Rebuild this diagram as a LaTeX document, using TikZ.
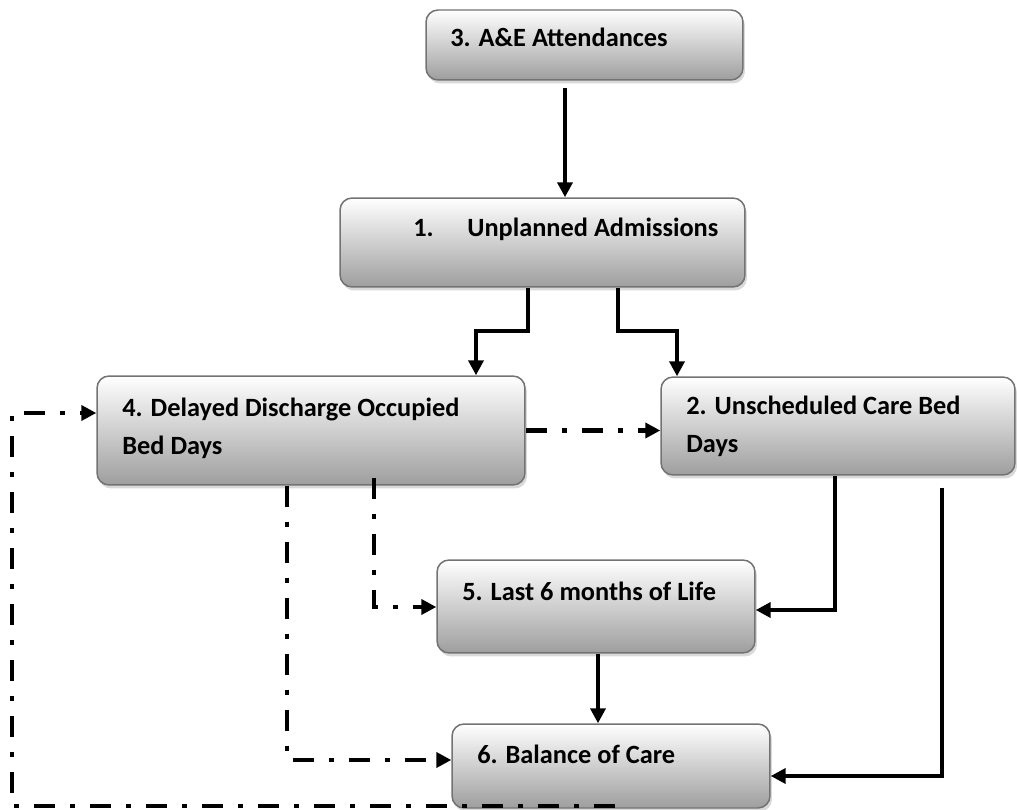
\documentclass[tikz,border=0pt]{standalone}
\usepackage{fontspec}
\setmainfont{Carlito}
\usetikzlibrary{arrows.meta,shadows,calc}

\begin{document}
\begin{tikzpicture}[x=0.02cm,y=-0.02cm,
    box/.style={draw=black!55,line width=0.85pt,rounded corners=0.24cm,
      top color=white,bottom color=black!38,inner sep=0pt,
      drop shadow={shadow xshift=0.04cm,shadow yshift=-0.07cm,opacity=0.3}},
    lbl/.style={anchor=base west,inner sep=0pt,align=left,
      font=\fontsize{15}{22}\selectfont\bfseries},
    flow/.style={line width=2.45pt,-{Triangle[length=0.3cm,width=0.3cm]}},
    dflow/.style={line width=2.8pt,dash pattern=on 0.42cm off 0.3cm on 0.1cm off 0.3cm,
      -{Triangle[length=0.3cm,width=0.3cm]}}]
  \useasboundingbox (0,0) rectangle (1017,810);

  % boxes
  \node[box,minimum width=6.34cm,minimum height=1.4cm] (b3) at (584.5,45) {};
  \node[box,minimum width=8.1cm,minimum height=1.78cm] (b1) at (542.5,242.5) {};
  \node[box,minimum width=8.56cm,minimum height=2.18cm] (b4) at (311,430.5) {};
  \node[box,minimum width=7.08cm,minimum height=1.96cm] (b2) at (838,426) {};
  \node[box,minimum width=6.36cm,minimum height=1.86cm] (b5) at (596,606.5) {};
  \node[box,minimum width=6.36cm,minimum height=1.68cm] (b6) at (611,766) {};

  % texts (base = last line)
  \node[lbl] (t3) at (450,47) {3. A\&E Attendances};
  \node[lbl] (t1) at (413,237) {\makebox[1.08cm][l]{1.}Unplanned Admissions};
  \node[lbl] (t4) at (122,455) {4. Delayed Discharge Occupied\\Bed Days};
  \node[lbl] (t2) at (686,453) {2. Unscheduled Care Bed\\Days};
  \node[lbl] (t5) at (462,600) {5. Last 6 months of Life};
  \node[lbl] (t6) at (477,763) {6. Balance of Care};

  % bend points
  \coordinate (a0) at (565,88);
  \coordinate (k1) at (528,331);
  \coordinate (k2) at (476,331);
  \coordinate (k3) at (618,331);
  \coordinate (k4) at (677,331);
  \coordinate (k5) at (835,610);
  \coordinate (k6) at (942,776);
  \coordinate (k7) at (374,607);
  \coordinate (k8) at (287,760);
  \coordinate (k9) at (598,690);
  \coordinate (l0) at (615,806);
  \coordinate (l1) at (12,806);
  \coordinate (l2) at (12,413);

  % solid links
  \draw[flow] (a0) -- (a0 |- b1.north);
  \draw[flow] (k1 |- b1.south) -- (k1) -- (k2) -- (k2 |- b4.north);
  \draw[flow] (k3 |- b1.south) -- (k3) -- (k4) -- (k4 |- b2.north);
  \draw[flow] (k5 |- b2.south) -- (k5) -- (k5 -| b5.east);
  \draw[flow] ($(k6 |- b2.south)+(0,12)$) -- (k6) -- (k6 -| b6.east);
  \draw[flow] (k9 |- b5.south) -- (k9 |- b6.north);

  % dash-dot links
  \draw[dflow] (b4.east) -- (b4.east -| b2.west);
  \draw[dflow] ($(k7 |- b4.south)+(0,-8)$) -- (k7) -- (k7 -| b5.west);
  \draw[dflow] (k8 |- b4.south) -- (k8) -- (k8 -| b6.west);
  \draw[dflow] (l0) -- (l1) -- (l2) -- (l2 -| b4.west);
\end{tikzpicture}
\end{document}
